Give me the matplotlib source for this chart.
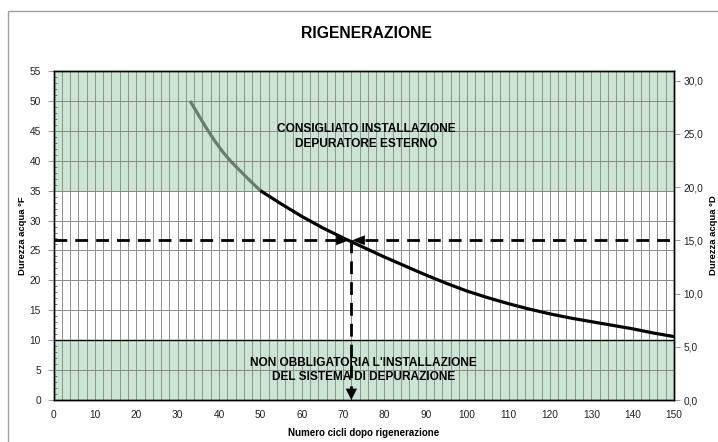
import matplotlib
matplotlib.use("Agg")
import matplotlib.pyplot as plt
from matplotlib.patches import Rectangle
import numpy as np

plt.rcParams['font.family'] = ['Liberation Sans', 'DejaVu Sans']

# Data
title = "RIGENERAZIONE"
x_label = "Numero cicli dopo rigenerazione"
y_label_left = "Durezza acqua °F"
y_label_right = "Durezza acqua °D"
gray_x = [33, 35, 37, 39, 41, 43, 45, 47, 48.5, 50]
gray_y = [50.0, 47.7, 45.4, 43.3, 41.4, 39.8, 38.4, 37.0, 36.0, 35.0]
black_x = [50, 55, 60, 65, 70, 75, 80, 85, 90, 95, 100, 105, 110, 115, 120, 125, 130, 135, 140, 145, 150]
black_y = [35.0, 32.8, 30.7, 28.8, 27.1, 25.5, 23.9, 22.4, 20.9, 19.5, 18.2, 17.1, 16.1, 15.2, 14.4, 13.7, 13.1, 12.5, 11.9, 11.2, 10.6]
ref_hardness_D = 15.0
ref_cycles = 72
conv_F_per_D = 1.78
upper_zone = [35, 55]
lower_zone = [0, 10]
upper_text = "CONSIGLIATO INSTALLAZIONE\nDEPURATORE ESTERNO"
lower_text = "NON OBBLIGATORIA L'INSTALLAZIONE\nDEL SISTEMA DI DEPURAZIONE"
x_ticks = list(range(0, 151, 10))
y_ticks_left = list(range(0, 56, 5))
y_ticks_right = [0, 5, 10, 15, 20, 25, 30]

W, H = 718, 442
fig = plt.figure(figsize=(W / 100, H / 100), dpi=100)
fig.patch.set_facecolor('white')

# outer border
fig.add_artist(Rectangle((8 / W, -0.05), 1.1, (H - 11) / H + 0.05, transform=fig.transFigure,
                         fill=False, edgecolor='#a0a0a0', linewidth=1.0))

left, right, top, bottom = 53.5, 674, 71, 400
ax = fig.add_axes([left / W, 1 - bottom / H, (right - left) / W, (bottom - top) / H])
ax.set_xlim(0, 150)
ax.set_ylim(0, 55)

green = '#cce5d3'
ax.axhspan(upper_zone[0], upper_zone[1], color=green, zorder=0, linewidth=0)
ax.axhspan(lower_zone[0], lower_zone[1], color=green, zorder=0, linewidth=0)

# grid
for gx in np.arange(2, 150, 2):
    ax.axvline(gx, color='#8f8f8f', linewidth=0.7, zorder=1)
for gy in range(5, 55, 5):
    ax.axhline(gy, color='#8a8a8a', linewidth=0.7, zorder=1)
ax.axhline(lower_zone[1], color='black', linewidth=1.0, zorder=2)

# curve
ax.plot(gray_x, gray_y, color='#6b7b70', linewidth=2.3, zorder=4, solid_capstyle='butt',
        solid_joinstyle='round')
ax.plot(black_x, black_y, color='black', linewidth=2.3, zorder=4, solid_capstyle='butt',
        solid_joinstyle='round')

# reference dashed lines
ref_F = ref_hardness_D * conv_F_per_D
dash = (0, (4.6, 2.9))
ax.plot([0, ref_cycles - 2.8], [ref_F, ref_F], color='black', linewidth=2.0, linestyle=dash, zorder=5)
ax.plot([ref_cycles + 3.2, 150], [ref_F, ref_F], color='black', linewidth=2.0, linestyle=dash, zorder=5)
ax.plot([ref_cycles, ref_cycles], [ref_F, 1.6], color='black', linewidth=2.0, linestyle=dash, zorder=5)
ax.annotate('', xy=(ref_cycles - 0.6, ref_F), xytext=(ref_cycles - 3.5, ref_F),
            arrowprops=dict(arrowstyle='-|>,head_length=0.9,head_width=0.35', color='black', lw=0.1,
                            shrinkA=0, shrinkB=0), zorder=6)
ax.annotate('', xy=(ref_cycles + 0.2, ref_F), xytext=(ref_cycles + 3.5, ref_F),
            arrowprops=dict(arrowstyle='-|>,head_length=0.9,head_width=0.35', color='black', lw=0.1,
                            shrinkA=0, shrinkB=0), zorder=6)
ax.annotate('', xy=(ref_cycles, 0), xytext=(ref_cycles, 2.0),
            arrowprops=dict(arrowstyle='-|>,head_length=0.8,head_width=0.4', color='black', lw=0.1,
                            shrinkA=0, shrinkB=0), zorder=6)

# zone texts
ax.text(75.5, 44.0, upper_text, ha='center', va='center', fontsize=8.6, fontweight='bold',
        linespacing=1.3, zorder=7)
ax.text(75.0, 5.0, lower_text, ha='center', va='center', fontsize=8.6, fontweight='bold',
        linespacing=1.3, zorder=7)

# axes styling
for s in ax.spines.values():
    s.set_linewidth(1.0)
    s.set_color('black')
ax.set_xticks(x_ticks)
ax.set_xticklabels([str(v) for v in x_ticks], fontsize=7.3, color='#222222')
ax.tick_params(axis='x', length=0, pad=7)
ax.set_yticks(y_ticks_left)
ax.set_yticklabels([str(v) for v in y_ticks_left], fontsize=7.3, color='#222222')
ax.set_yticks(np.arange(0, 56, 1), minor=True)
ax.tick_params(axis='y', which='major', direction='out', length=4, width=0.6, color='#888888', pad=5)
ax.tick_params(axis='y', which='minor', direction='in', length=2.5, width=0.6, color='#666666')
ax.set_xlabel(x_label, fontsize=7, fontweight='bold', labelpad=6)
ax.set_ylabel(y_label_left, fontsize=6.8, fontweight='bold')
ax.yaxis.set_label_coords((27 - left) / (right - left), 0.5)

ax2 = ax.twinx()
ax2.set_ylim(0, 55 / conv_F_per_D)
ax2.set_yticks(y_ticks_right)
ax2.set_yticklabels([f"{v:.1f}".replace('.', ',') for v in y_ticks_right], fontsize=7.3, color='#222222')
ax2.tick_params(axis='y', direction='out', length=4, width=0.6, color='#888888', pad=3)
ax2.set_ylabel(y_label_right, fontsize=6.8, fontweight='bold')
ax2.yaxis.set_label_coords((709 - left) / (right - left), 0.5)
for s in ax2.spines.values():
    s.set_linewidth(1.0)

fig.text(366 / W, 1 - 33 / H, title, ha='center', va='center', fontsize=11.3, fontweight='bold')

fig.savefig('out.png', dpi=100)
